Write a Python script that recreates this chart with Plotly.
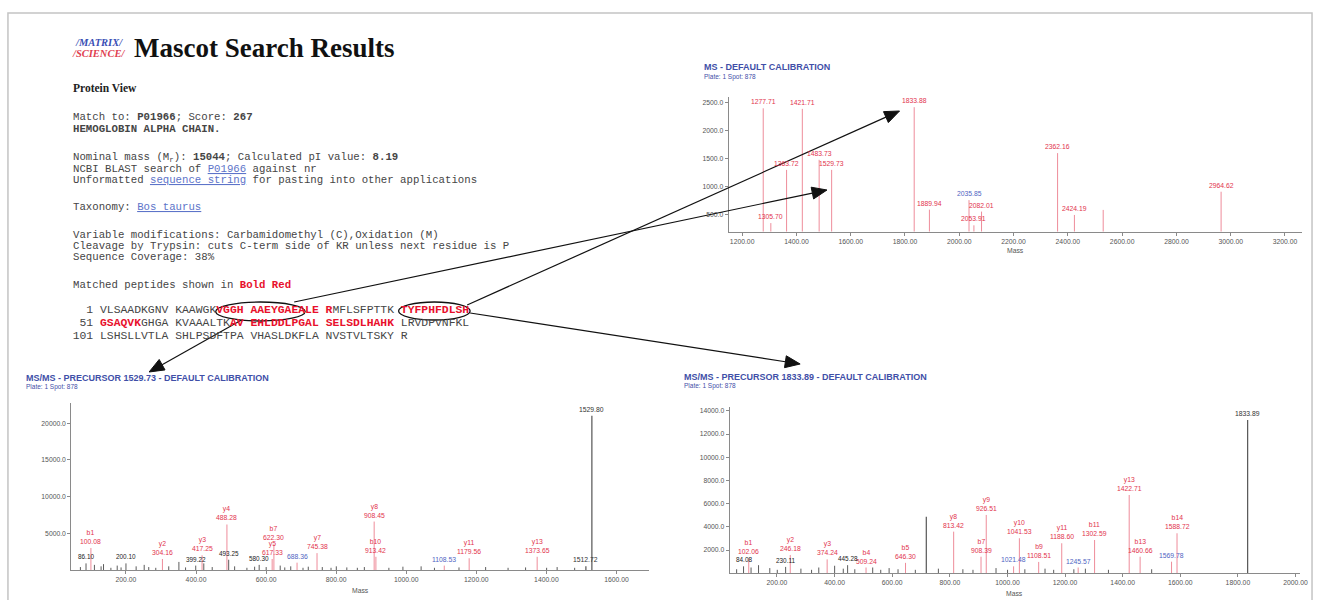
import re
import plotly.graph_objects as go

W, H = 1325, 600


def px(x):
    return x / W


def py(y):
    return 1 - y / H


# ---------------- MS spectrum (peptide mass fingerprint) ----------------
ms_mass = [1277.71, 1305.70, 1363.72, 1421.71, 1483.73, 1529.73, 1833.88, 1889.94,
           2035.85, 2053.91, 2082.01, 2362.16, 2424.19, 2530.20, 2964.62]
ms_int = [2400, 350, 1300, 2390, 1480, 1300, 2420, 590,
          760, 310, 555, 1600, 495, 585, 910]
ms_lab = ["r", "r", "r", "r", "r", "r", "r", "r",
          "b", "r", "r", "r", "r", "", "r"]
ms_xticks = [1200, 1400, 1600, 1800, 2000, 2200, 2400, 2600, 2800, 3000, 3200]
ms_yticks = [500, 1000, 1500, 2000, 2500]

# ---------------- MS/MS of precursor 1529.73 (VGGHAAEYGAEALER) ----------------
p1_mass = [100.08, 304.16, 417.25, 488.28, 617.33, 622.30, 688.36, 745.38,
           908.45, 913.42, 1108.53, 1179.56, 1373.65, 1512.72, 1529.80]
p1_int = [3000, 1500, 2000, 6200, 1500, 3500, 1000, 2300,
          6600, 1800, 600, 1600, 1800, 500, 21000]
p1_ion = ["b1", "y2", "y3", "y4", "y5", "b7", "", "y7",
          "y8", "b10", "", "y11", "y13", "", ""]
p1_lab = ["r", "r", "r", "r", "r", "r", "b", "r",
          "r", "r", "b", "r", "r", "k", "k"]
p1_minor_mass = [70.07, 86.10, 110.07, 129.10, 136.08, 157.10, 175.12, 186.12,
                 200.10, 229.12, 252.14, 265.12, 285.16, 322.18, 351.18, 370.20,
                 399.22, 422.22, 446.24, 493.25, 510.26, 545.28, 567.30, 580.30,
                 600.31, 640.33, 653.34, 670.35, 705.37, 720.38, 760.40, 785.36,
                 800.41, 830.43, 860.44, 880.45, 950.48, 990.50, 1042.46, 1080.52,
                 1150.55, 1226.58, 1290.61, 1340.63, 1400.66, 1430.67, 1480.70]
p1_minor_int = [400, 900, 700, 500, 800, 300, 600, 350,
                900, 500, 700, 400, 300, 500, 1100, 350,
                600, 900, 400, 1400, 500, 300, 450, 700,
                400, 600, 350, 500, 300, 450, 400, 300,
                500, 350, 300, 400, 300, 450, 500, 300,
                350, 400, 300, 350, 300, 400, 300]
p1_base_lab_mass = [86.10, 200.10, 399.22, 493.25, 580.30]

# ---------------- MS/MS of precursor 1833.89 (TYFPHFDLSHGSAQVK) ----------------
p2_mass = [102.06, 246.18, 374.24, 509.24, 646.30, 718.40, 813.42, 908.39,
           926.51, 1021.48, 1041.53, 1108.51, 1188.60, 1245.57, 1302.59,
           1422.71, 1460.66, 1569.78, 1588.72, 1833.89]
p2_int = [1300, 1580, 1200, 500, 900, 4880, 3590, 1430,
          5030, 600, 3020, 980, 2590, 500, 2870,
          6750, 1430, 1000, 3450, 13215]
p2_ion = ["b1", "y2", "y3", "b4", "b5", "", "y8", "b7",
          "y9", "", "y10", "b9", "y11", "", "b11",
          "y13", "b13", "", "b14", ""]
p2_lab = ["r", "r", "r", "r", "r", "", "r", "r",
          "r", "b", "r", "r", "r", "b", "r",
          "r", "r", "b", "r", "k"]
p2_minor_mass = [60.04, 84.08, 110.07, 136.08, 175.12, 201.10, 230.11, 283.14,
                 320.16, 345.18, 400.20, 430.21, 445.28, 470.23, 532.31, 560.28,
                 589.33, 620.31, 680.34, 760.38, 845.42, 880.44, 960.48, 1000.50,
                 1060.53, 1130.57, 1160.58, 1230.62, 1270.64, 1350.68, 1500.75]
p2_minor_int = [350, 600, 500, 700, 450, 300, 550, 400,
                300, 500, 650, 400, 700, 350, 500, 300,
                450, 350, 300, 400, 350, 300, 450, 300,
                350, 400, 300, 350, 400, 300, 350]
p2_base_lab_mass = [84.08, 230.11, 445.28]

RED_STEM = "#ee8c9a"
RED_TXT = "#e2334d"
BLUE_TXT = "#4f64c2"
DARK = "#4a4a4a"
AXIS = "#8a8a8a"
TITLE_BLUE = "#3f4fa8"
LAB_COL = {"r": RED_TXT, "b": BLUE_TXT, "k": "#333333"}

fig = go.Figure()


def stem_xy(xs, ys, base):
    X, Y = [], []
    for x, y in zip(xs, ys):
        X += [x, x, None]
        Y += [base, y, None]
    return X, Y


def add_stems(xs, ys, base, color, xa, ya, width=1.0):
    X, Y = stem_xy(xs, ys, base)
    fig.add_trace(go.Scatter(x=X, y=Y, mode="lines", line=dict(color=color, width=width),
                             xaxis=xa, yaxis=ya, hoverinfo="skip", showlegend=False))


annotations = []


def peak_label(x, y, text, color, xa, ya, size=6.8):
    annotations.append(dict(x=x, y=y, xref=xa, yref=ya, text=text, showarrow=False,
                            xanchor="center", yanchor="bottom", yshift=1,
                            font=dict(family="Liberation Sans", size=size, color=color)))


# --- MS spectrum stems and labels
add_stems(ms_mass, ms_int, 196, RED_STEM, "x", "y")
for m, i, l in zip(ms_mass, ms_int, ms_lab):
    if l:
        peak_label(m, i, f"{m:.2f}", LAB_COL[l], "x", "y")

# --- MS/MS 1529.73
add_stems(p1_minor_mass, p1_minor_int, 0, DARK, "x2", "y2", 0.9)
red1 = [(m, i) for m, i, l in zip(p1_mass, p1_int, p1_lab) if l in ("r", "b")]
add_stems([m for m, _ in red1], [i for _, i in red1], 0, RED_STEM, "x2", "y2")
blk1 = [(m, i) for m, i, l in zip(p1_mass, p1_int, p1_lab) if l == "k"]
add_stems([m for m, _ in blk1], [i for _, i in blk1], 0, "#555555", "x2", "y2", 1.2)
for m, i, n, l in zip(p1_mass, p1_int, p1_ion, p1_lab):
    txt = f"{n}<br>{m:.2f}" if n else f"{m:.2f}"
    peak_label(m, i, txt, LAB_COL[l], "x2", "y2")
for m in p1_base_lab_mass:
    i = p1_minor_int[p1_minor_mass.index(m)]
    peak_label(m, i, f"{m:.2f}", "#222222", "x2", "y2", size=6.4)

# --- MS/MS 1833.89
add_stems(p2_minor_mass, p2_minor_int, 0, DARK, "x3", "y3", 0.9)
red2 = [(m, i) for m, i, l in zip(p2_mass, p2_int, p2_lab) if l in ("r", "b")]
add_stems([m for m, _ in red2], [i for _, i in red2], 0, RED_STEM, "x3", "y3")
blk2 = [(m, i) for m, i, l in zip(p2_mass, p2_int, p2_lab) if l in ("k", "")]
add_stems([m for m, _ in blk2], [i for _, i in blk2], 0, "#555555", "x3", "y3", 1.2)
for m, i, n, l in zip(p2_mass, p2_int, p2_ion, p2_lab):
    if not l:
        continue
    txt = f"{n}<br>{m:.2f}" if n else f"{m:.2f}"
    peak_label(m, i, txt, LAB_COL[l], "x3", "y3")
for m in p2_base_lab_mass:
    i = p2_minor_int[p2_minor_mass.index(m)]
    peak_label(m, i, f"{m:.2f}", "#222222", "x3", "y3", size=6.4)


def x_axis(domain, rng, ticks, anchor):
    return dict(domain=domain, range=rng, anchor=anchor, tickvals=ticks,
                ticktext=[f"{t:.2f}" for t in ticks], showline=True, linecolor=AXIS,
                linewidth=1, ticks="outside", ticklen=3, tickcolor=AXIS,
                tickfont=dict(family="Liberation Sans", size=6.8, color="#555555"),
                showgrid=False, zeroline=False, fixedrange=True)


def y_axis(domain, rng, ticks, anchor):
    return dict(domain=domain, range=rng, anchor=anchor, tickvals=ticks,
                ticktext=[f"{t:.1f}" for t in ticks], showline=True, linecolor=AXIS,
                linewidth=1, ticks="outside", ticklen=3, tickcolor=AXIS,
                tickfont=dict(family="Liberation Sans", size=6.8, color="#555555"),
                showgrid=False, zeroline=False, fixedrange=True)


fig.update_layout(
    xaxis=x_axis([px(733), px(1310)], [1150, 3263], ms_xticks, "y"),
    yaxis=y_axis([py(231.7), py(97)], [196, 2602], ms_yticks, "x"),
    xaxis2=x_axis([px(71.7), px(653)], [44, 1693], [200, 400, 600, 800, 1000, 1200, 1400, 1600], "y2"),
    yaxis2=y_axis([py(570), py(403)], [0, 22750], [5000, 10000, 15000, 20000], "x2"),
    xaxis3=x_axis([px(734), px(1308)], [35.5, 2016],
                  [200, 400, 600, 800, 1000, 1200, 1400, 1600, 1800, 2000], "y3"),
    yaxis3=y_axis([py(573.3), py(406.7)], [0, 14360],
                  [2000, 4000, 6000, 8000, 10000, 12000, 14000], "x3"),
)


def text_at(x, y, text, family, size, color, xanchor="left"):
    annotations.append(dict(x=px(x), y=py(y), xref="paper", yref="paper", text=text,
                            showarrow=False, xanchor=xanchor, yanchor="middle",
                            font=dict(family=family, size=size, color=color)))


# axis titles
for xa, ypos in (("x", 250), ("x2", 590), ("x3", 593)):
    annotations.append(dict(x=0.5, y=py(ypos), xref=f"{xa} domain", yref="paper", text="Mass",
                            showarrow=False, xanchor="center", yanchor="middle",
                            font=dict(family="Liberation Sans", size=6.8, color="#555555")))

# spectrum headers
headers = [
    (706, 67, 77, "MS - DEFAULT CALIBRATION"),
    (24, 378, 387, "MS/MS - PRECURSOR 1529.73 - DEFAULT CALIBRATION"),
    (686, 377, 386, "MS/MS - PRECURSOR 1833.89 - DEFAULT CALIBRATION"),
]
for x0, yt, ys, txt in headers:
    text_at(x0, yt, f"<b>{txt}</b>", "Liberation Sans", 9, TITLE_BLUE)
    text_at(x0, ys, "Plate: 1 Spot: 878", "Liberation Sans", 6.5, TITLE_BLUE)

# ---------------- Mascot protein view text ----------------
NB = "\u00a0"
MONO = "Liberation Mono"
LINK = "#5d74c9"
BODY = "#454545"


def keep_spaces(s):
    # swap plain spaces for non-breaking ones, leaving markup tags untouched
    parts = re.split(r"(<[^>]*>)", s)
    return "".join(p if p.startswith("<") else p.replace(" ", NB) for p in parts)


def link(t):
    return f'<span style="color:{LINK};text-decoration:underline">{t}</span>'


def red(t):
    return f'<b><span style="color:#e8102c">{t}</span></b>'


text_at(73, 42, "<i><b>/MATRIX/</b></i>", "Liberation Serif", 10.5, "#3a4fb5")
text_at(70, 53, "<i><b>/SCIENCE/</b></i>", "Liberation Serif", 10.5, "#e04050")
text_at(133, 48, "<b>Mascot Search Results</b>", "Liberation Serif", 27, "#111111")
text_at(71, 88, "<b>Protein View</b>", "Liberation Serif", 11.5, "#222222")

body = [
    (117, "Match to: <b>P01966</b>; Score: <b>267</b>"),
    (129, "<b>HEMOGLOBIN ALPHA CHAIN.</b>"),
    (157, "Nominal mass (M<sub>r</sub>): <b>15044</b>; Calculated pI value: <b>8.19</b>"),
    (169, f"NCBI BLAST search of {link('P01966')} against nr"),
    (180, f"Unformatted {link('sequence string')} for pasting into other applications"),
    (207, f"Taxonomy: {link('Bos taurus')}"),
    (235, "Variable modifications: Carbamidomethyl (C),Oxidation (M)"),
    (246, "Cleavage by Trypsin: cuts C-term side of KR unless next residue is P"),
    (257, "Sequence Coverage: 38%"),
    (285, f"Matched peptides shown in {red('Bold Red')}"),
]
for yy, txt in body:
    text_at(71, yy, keep_spaces(txt), MONO, 10.7, BODY)

seq_lines = [
    (310, "1", ["VLSAADKGNV", "KAAWGK" + red("VGGH"), red("AAEYGAEALE"),
                red("R") + "MFLSFPTTK", red("TYFPHFDLSH")]),
    (323, "51", [red("GSAQVK") + "GHGA", "KVAAALTK" + red("AV"), red("EHLDDLPGAL"),
                 red("SELSDLHAHK"), "LRVDPVNFKL"]),
    (336, "101", ["LSHSLLVTLA", "SHLPSDFTPA", "VHASLDKFLA", "NVSTVLTSKY", "R"]),
]
for yy, num, groups in seq_lines:
    txt = NB * (5 - len(num)) + num + NB + NB.join(groups)
    text_at(57.7, yy, txt, MONO, 11.4, BODY)

shapes = []
# page frame
shapes.append(dict(type="rect", xref="paper", yref="paper", x0=px(8), x1=px(1320), y0=py(640), y1=py(13),
                   line=dict(color="#c4c4c4", width=1.5), layer="below"))
# peptide ellipses
for cx, cy, rx, ry in ((262, 311.5, 45, 9.5), (437, 311, 36, 9)):
    shapes.append(dict(type="circle", xref="paper", yref="paper", x0=px(cx - rx), x1=px(cx + rx),
                       y0=py(cy + ry), y1=py(cy - ry), line=dict(color="#111111", width=1.3)))

# arrows from peptides to their spectra
arrows = [((296, 302), (832, 190)),
          ((470, 305), (905, 111)),
          ((243, 320), (150, 372)),
          ((473, 313), (805, 364))]
for (x0, y0), (x1, y1) in arrows:
    dx, dy = x1 - x0, y1 - y0
    L = (dx * dx + dy * dy) ** 0.5
    ux, uy = dx / L, dy / L
    hl, hw = 15, 6
    bx, by = x1 - ux * hl, y1 - uy * hl
    shapes.append(dict(type="line", xref="paper", yref="paper", x0=px(x0), y0=py(y0), x1=px(bx), y1=py(by),
                       line=dict(color="#111111", width=1.2)))
    p1 = (bx - uy * hw, by + ux * hw)
    p2 = (bx + uy * hw, by - ux * hw)
    path = f"M {px(x1)} {py(y1)} L {px(p1[0])} {py(p1[1])} L {px(p2[0])} {py(p2[1])} Z"
    shapes.append(dict(type="path", xref="paper", yref="paper", path=path,
                       fillcolor="#111111", line=dict(color="#111111", width=1)))

fig.update_layout(width=W, height=H, margin=dict(l=0, r=0, t=0, b=0),
                  paper_bgcolor="white", plot_bgcolor="white", showlegend=False,
                  annotations=annotations, shapes=shapes)

fig.write_html("out.html")
